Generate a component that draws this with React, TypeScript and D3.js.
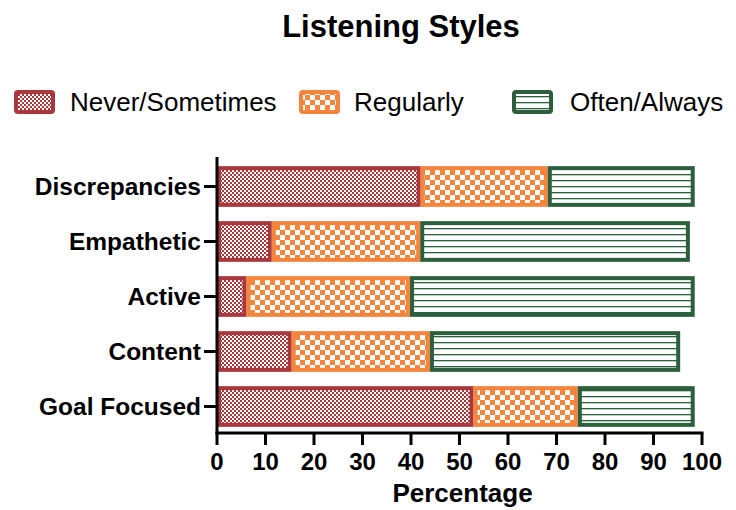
import React from "react";
import * as d3 from "d3";

const categories = ["Discrepancies", "Empathetic", "Active", "Content", "Goal Focused"];
const seriesNames = ["Never/Sometimes", "Regularly", "Often/Always"];
const neverSometimes = [42, 11.3, 6.1, 15.4, 52.9];
const regularly = [26.2, 30.6, 33.7, 28.5, 21.5];
const oftenAlways = [30.3, 55.6, 58.7, 51.6, 24.1];
const xTicks = [0, 10, 20, 30, 40, 50, 60, 70, 80, 90, 100];

const colors = ["#a8383c", "#f5843d", "#2c5f3b"];
const patterns = ["pRed", "pOrange", "pGreen"];

export default function App() {
  const W = 736, H = 510;
  const x = d3.scaleLinear().domain([0, 100]).range([217, 702]);
  const y = d3.scaleBand<string>().domain(categories).range([159, 434]).paddingInner(0.26).paddingOuter(0.13);
  const rows = categories.map((c, i) => ({ c, vals: [neverSometimes[i], regularly[i], oftenAlways[i]] }));
  const font = "'Liberation Sans', Arial, sans-serif";
  const legend = [
    { x: 14, tx: 70 },
    { x: 299, tx: 354 },
    { x: 512, tx: 570 },
  ];
  return (
    <svg width={W} height={H} style={{ position: "absolute", left: 0, top: 0 }} fontFamily={font}>
      <defs>
        <pattern id="pRed" width="4" height="4" patternUnits="userSpaceOnUse">
          <rect width="4" height="4" fill="#ffffff" />
          <rect width="2" height="2" fill={colors[0]} />
          <rect x="2" y="2" width="2" height="2" fill={colors[0]} />
        </pattern>
        <pattern id="pOrange" width="10" height="10" patternUnits="userSpaceOnUse">
          <rect width="10" height="10" fill="#ffffff" />
          <rect width="5" height="5" fill={colors[1]} />
          <rect x="5" y="5" width="5" height="5" fill={colors[1]} />
        </pattern>
        <pattern id="pGreen" width="6" height="6" patternUnits="userSpaceOnUse">
          <rect width="6" height="6" fill="#ffffff" />
          <rect y="0" width="6" height="1.3" fill={colors[2]} />
        </pattern>
      </defs>
      <rect width={W} height={H} fill="#fff" />
      <text x={401} y={37} textAnchor="middle" fontSize={31} fontWeight="bold">Listening Styles</text>
      {legend.map((l, i) => (
        <g key={i}>
          <rect x={l.x + 2} y={92} width={37} height={20} rx={2} fill={`url(#${patterns[i]})`} stroke={colors[i]} strokeWidth={4} />
          <text x={l.tx} y={111} fontSize={26}>{seriesNames[i]}</text>
        </g>
      ))}
      {rows.map((r) => {
        let acc = 0;
        return (
          <g key={r.c}>
            {r.vals.map((v, k) => {
              const x0 = x(acc);
              acc += v;
              const x1 = x(acc);
              return (
                <rect key={k} x={x0 + 2} y={y(r.c)! + 2} width={x1 - x0 - 4} height={y.bandwidth() - 4}
                  fill={`url(#${patterns[k]})`} stroke={colors[k]} strokeWidth={4} />
              );
            })}
          </g>
        );
      })}
      {/* y axis */}
      <line x1={x(0)} x2={x(0)} y1={157} y2={434} stroke="#000" strokeWidth={3} />
      {categories.map((c) => (
        <g key={c}>
          <line x1={x(0) - 13} x2={x(0)} y1={y(c)! + y.bandwidth() / 2} y2={y(c)! + y.bandwidth() / 2} stroke="#000" strokeWidth={3} />
          <text x={x(0) - 16} y={y(c)! + y.bandwidth() / 2 + 8.5} textAnchor="end" fontSize={24.5} fontWeight="bold">{c}</text>
        </g>
      ))}
      {/* x axis */}
      <line x1={x(0) - 1.5} x2={x(100) + 1.5} y1={433} y2={433} stroke="#000" strokeWidth={3} />
      {xTicks.map((t) => (
        <g key={t}>
          <line x1={x(t)} x2={x(t)} y1={433} y2={445} stroke="#000" strokeWidth={3} />
          <text x={x(t)} y={470} textAnchor="middle" fontSize={24} fontWeight="bold">{t}</text>
        </g>
      ))}
      <text x={x(50) + 3} y={502} textAnchor="middle" fontSize={26} fontWeight="bold">Percentage</text>
    </svg>
  );
}
